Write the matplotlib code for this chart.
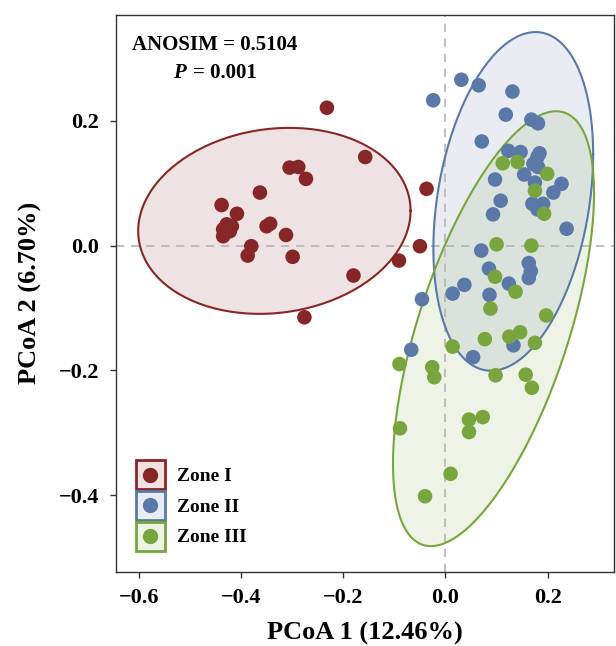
import numpy as np
import matplotlib
matplotlib.use('Agg')
import matplotlib.pyplot as plt
import matplotlib.patches as mpatches
from matplotlib.lines import Line2D
from matplotlib.legend_handler import HandlerLine2D

plt.rcParams['font.family'] = ['Liberation Serif', 'DejaVu Serif']
plt.rcParams['font.weight'] = 'bold'

# PCoA scores
zone1_x = [-0.232, -0.157, -0.305, -0.288, -0.273, -0.037, -0.363, -0.438, -0.408, -0.428,
           -0.418, -0.435, -0.422, -0.435, -0.350, -0.343, -0.312, -0.380, -0.387, -0.299,
           -0.050, -0.091, -0.180, -0.276]
zone1_y = [0.221, 0.142, 0.125, 0.126, 0.107, 0.091, 0.085, 0.065, 0.051, 0.034,
           0.031, 0.026, 0.023, 0.015, 0.031, 0.035, 0.017, -0.001, -0.016, -0.018,
           -0.001, -0.024, -0.048, -0.115]

zone2_x = [0.031, 0.065, -0.024, 0.131, 0.118, 0.168, 0.181, 0.071, 0.123, 0.147,
           0.184, 0.180, 0.172, 0.181, 0.154, 0.097, 0.175, 0.227, 0.211, 0.108,
           0.170, 0.191, 0.180, 0.093, 0.237, 0.070, 0.163, 0.167, 0.163, 0.085,
           0.124, 0.037, 0.014, 0.086, 0.133, 0.054, -0.046, -0.067]
zone2_y = [0.266, 0.257, 0.233, 0.247, 0.210, 0.202, 0.196, 0.167, 0.152, 0.150,
           0.148, 0.142, 0.131, 0.126, 0.114, 0.106, 0.101, 0.099, 0.085, 0.072,
           0.067, 0.067, 0.058, 0.050, 0.027, -0.008, -0.028, -0.041, -0.052, -0.037,
           -0.061, -0.063, -0.077, -0.079, -0.160, -0.179, -0.086, -0.167]

zone3_x = [0.112, 0.141, 0.199, 0.175, 0.193, 0.100, 0.168, 0.097, 0.137, 0.088,
           0.197, 0.077, 0.125, 0.146, 0.175, 0.014, -0.090, -0.026, -0.022, 0.098,
           0.157, 0.169, -0.089, 0.046, 0.073, 0.046, 0.010, -0.040]
zone3_y = [0.132, 0.134, 0.115, 0.088, 0.051, 0.002, 0.000, -0.050, -0.074, -0.101,
           -0.112, -0.150, -0.146, -0.139, -0.156, -0.162, -0.190, -0.195, -0.211, -0.208,
           -0.207, -0.228, -0.293, -0.279, -0.275, -0.299, -0.366, -0.402]

zones = ['Zone I', 'Zone II', 'Zone III']
colors = ['#862626', '#5b79a8', '#78a53d']
xs = [zone1_x, zone2_x, zone3_x]
ys = [zone1_y, zone2_y, zone3_y]


def cov_trob(x, nu=5, maxit=25, tol=0.01):
    # robust multivariate t estimate (like MASS::cov.trob)
    n, p = x.shape
    wt = np.ones(n)
    loc = x.mean(0)
    w = np.sqrt(wt)
    for _ in range(maxit):
        w0 = w
        X = x - loc
        _, d, vt = np.linalg.svd(np.sqrt(w / w.sum())[:, None] * X, full_matrices=False)
        wX = X @ vt.T @ np.diag(1 / d)
        Q = (wX ** 2).sum(1)
        w = wt * (nu + p) / (nu + Q)
        loc = (w[:, None] * x).sum(0) / w.sum()
        if np.all(np.abs(w - w0) < tol):
            break
    sw = np.sqrt(w)[:, None] * X
    return loc, sw.T @ sw / wt.sum()


def ellipse_pts(x, y, level=0.95, npts=200):
    data = np.column_stack([x, y])
    n = len(x)
    center, shape = cov_trob(data)
    d2 = n - 1
    fq = d2 / 2 * ((1 - level) ** (-2 / d2) - 1)  # F(2, d2) quantile
    radius = np.sqrt(2 * fq)
    t = np.linspace(0, 2 * np.pi, npts)
    circle = np.column_stack([np.cos(t), np.sin(t)])
    L = np.linalg.cholesky(shape)
    return center + radius * circle @ L.T


class CenteredDot(HandlerLine2D):
    # put the legend dot in the middle of the square patch
    def create_artists(self, legend, orig_handle, xdescent, ydescent, width, height,
                       fontsize, trans):
        arts = super().create_artists(legend, orig_handle, xdescent, ydescent, width,
                                      height, fontsize, trans)
        for a in arts:
            a.set_ydata(np.full(len(a.get_ydata()), height / 2 - ydescent))
        return arts


fig = plt.figure(figsize=(6.16, 6.46), dpi=100)
ax = fig.add_axes([0.188, 0.115, 0.809, 0.862])

for x, y, c in zip(xs, ys, colors):
    pts = ellipse_pts(np.array(x), np.array(y))
    ax.fill(pts[:, 0], pts[:, 1], facecolor=c, alpha=0.13, edgecolor='none', zorder=1)
    ax.plot(pts[:, 0], pts[:, 1], color=c, lw=1.5, zorder=2)

ax.axhline(0, color='#b5b5b5', ls=(0, (5, 4)), lw=1.2, zorder=1.5)
ax.axvline(0, color='#b5b5b5', ls=(0, (5, 4)), lw=1.2, zorder=1.5)

for x, y, c in zip(xs, ys, colors):
    ax.scatter(x, y, s=110, color=c, edgecolors='none', zorder=3)

ax.set_xlim(-0.645, 0.33)
ax.set_ylim(-0.523, 0.37)
ax.set_xticks([-0.6, -0.4, -0.2, 0.0, 0.2])
ax.set_yticks([-0.4, -0.2, 0.0, 0.2])
ax.tick_params(labelsize=16, length=4, width=1, color='#333333', pad=8)
for s in ax.spines.values():
    s.set_color('#333333')
    s.set_linewidth(1)

ax.set_xlabel('PCoA 1 (12.46%)', fontsize=19, fontweight='bold', labelpad=10)
ax.set_ylabel('PCoA 2 (6.70%)', fontsize=19, fontweight='bold', labelpad=12)

ax.text(0.032, 0.946, 'ANOSIM = 0.5104', transform=ax.transAxes, fontsize=15,
        fontweight='bold', va='center', ha='left')
ax.text(0.1145, 0.896, 'P', transform=ax.transAxes, fontsize=15, fontweight='bold',
        style='italic', va='center', ha='left')
ax.text(0.155, 0.896, '= 0.001', transform=ax.transAxes, fontsize=15,
        fontweight='bold', va='center', ha='left')

handles = []
for c in colors:
    box = mpatches.Patch(facecolor=matplotlib.colors.to_rgba(c, 0.13), edgecolor=c, lw=2)
    dot = Line2D([], [], marker='o', color=c, ls='none', markersize=10)
    handles.append((box, dot))
ax.legend(handles, zones, loc='lower left', bbox_to_anchor=(0.04, 0.038), frameon=False,
          fontsize=14, handlelength=1.5, handleheight=1.9, labelspacing=0.1,
          handletextpad=0.6, borderpad=0, borderaxespad=0,
          handler_map={Line2D: CenteredDot()})

fig.savefig('out.png', dpi=100)
